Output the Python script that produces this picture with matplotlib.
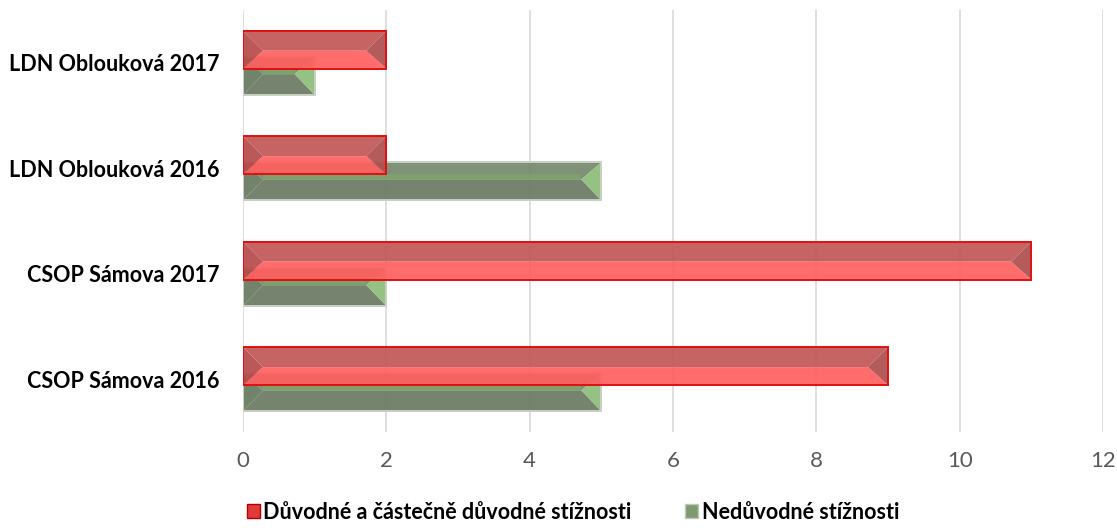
import matplotlib

matplotlib.use("Agg")
import matplotlib.pyplot as plt
from matplotlib.patches import Polygon, Patch
import numpy as np

CATEGORIES = ["CSOP Sámova 2016", "CSOP Sámova 2017", "LDN Oblouková 2016", "LDN Oblouková 2017"]
JUSTIFIED = [9, 11, 2, 2]
UNJUSTIFIED = [5, 2, 5, 1]
SERIES_NAMES = ["Důvodné a částečně důvodné stížnosti", "Nedůvodné stížnosti"]
X_TICKS = [0, 2, 4, 6, 8, 10, 12]

RED = {
    "top": "#c25656",
    "bottom": "#ff5f5f",
    "left": "#b84a4a",
    "right": "#ae4e4e",
    "strip": None,
    "edge": "#e01010",
}
GREEN = {
    "top": "#74886a",
    "bottom": "#6a7963",
    "left": "#667860",
    "right": "#8cbc78",
    "strip": "#80a26e",
    "edge": "#c8d0c4",
}


def bevel_bar(ax, yc, length, height, colors, zorder, depth=0.28, mid=0.53, alpha=0.92):
    y0 = yc - height / 2.0
    y1 = yc + height / 2.0
    ym = y1 - mid * height
    d = min(depth, length / 2.0)
    facets = [
        ([(0, y1), (length, y1), (length - d, ym), (d, ym)], colors["top"]),
        ([(d, ym), (length - d, ym), (length, y0), (0, y0)], colors["bottom"]),
        ([(0, y1), (d, ym), (0, y0)], colors["left"]),
        ([(length, y1), (length - d, ym), (length, y0)], colors["right"]),
    ]
    for pts, c in facets:
        ax.add_patch(Polygon(pts, closed=True, facecolor=c, edgecolor="none", alpha=alpha, zorder=zorder))
    if colors["strip"]:
        ax.plot([d, length - d], [ym + 0.02, ym + 0.02], color=colors["strip"], lw=4,
                alpha=alpha, zorder=zorder + 0.05, solid_capstyle="butt")
    ax.add_patch(
        Polygon(
            [(0, y0), (length, y0), (length, y1), (0, y1)],
            closed=True,
            facecolor="none",
            edgecolor=colors["edge"],
            linewidth=1.4,
            zorder=zorder + 0.1,
        )
    )


fig = plt.figure(figsize=(11.17, 5.28), dpi=100)
ax = fig.add_axes([0.2175, 0.182, 0.77, 0.799])

pos = np.arange(len(CATEGORIES))
bar_h = 0.36
offset = 0.125

for i, (r, g) in enumerate(zip(JUSTIFIED, UNJUSTIFIED)):
    bevel_bar(ax, pos[i] - offset, g, bar_h, GREEN, zorder=2, mid=0.45)
    bevel_bar(ax, pos[i] + offset, r, bar_h, RED, zorder=3)

ax.set_xlim(0, 12)
ax.set_ylim(-0.5, len(CATEGORIES) - 0.5)
ax.set_xticks(X_TICKS)
ax.set_xticklabels([str(t) for t in X_TICKS], family="Lato", fontsize=16, color="#595959")
ax.set_yticks(pos)
ax.set_yticklabels(CATEGORIES, family="Lato", fontweight="bold", fontsize=15.5, color="black")
ax.tick_params(axis="both", length=0)
ax.tick_params(axis="x", pad=14)
ax.tick_params(axis="y", pad=17)
ax.grid(axis="x", color="#d9d9d9", linewidth=1.2, zorder=0)
ax.set_axisbelow(True)
for s in ax.spines.values():
    s.set_visible(False)

handles = [
    Patch(facecolor="#e03a3a", edgecolor="#b00000", label=SERIES_NAMES[0]),
    Patch(facecolor="#7f9a70", edgecolor="#c0c8bc", label=SERIES_NAMES[1]),
]
fig.legend(
    handles=handles,
    loc="center",
    ncol=2,
    frameon=False,
    bbox_to_anchor=(0.513, 0.03),
    prop={"family": "Lato", "weight": "bold", "size": 15.5},
    handlelength=0.6,
    handleheight=0.6,
    handletextpad=0.15,
    columnspacing=2.5,
    borderpad=0.2,
)

fig.savefig("out.png", dpi=100, facecolor="white")
